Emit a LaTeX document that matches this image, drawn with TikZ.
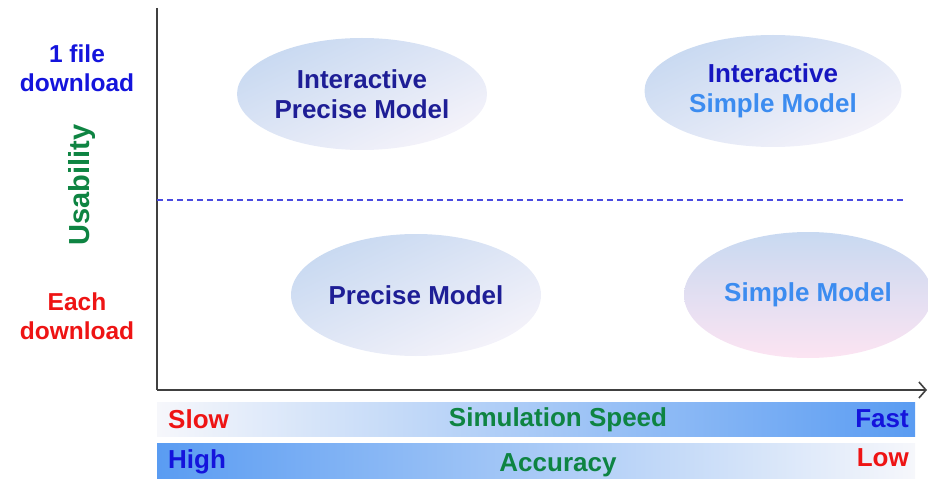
\documentclass[tikz,border=0pt]{standalone}
\usepackage{fontspec}
\setmainfont{Liberation Sans}
\usetikzlibrary{shapes.geometric,arrows.meta}
\definecolor{axisgray}{HTML}{404040}
\definecolor{dashblue}{HTML}{4A4AE0}
\definecolor{labelblue}{HTML}{1414DC}
\definecolor{navy}{HTML}{1E1E96}
\definecolor{brightnavy}{HTML}{1616C0}
\definecolor{skyblue}{HTML}{3C8CF0}
\definecolor{labelgreen}{HTML}{0E8442}
\definecolor{labelred}{HTML}{EE1414}
\definecolor{ellblue}{HTML}{C8D9F1}
\definecolor{ellwhite}{HTML}{F5F3FA}
\definecolor{ellpink}{HTML}{FCE4F2}
\definecolor{barblue}{HTML}{5A9CF2}
\definecolor{barwhite}{HTML}{F6F7FB}
\tikzset{
  x=1pt, y=-1pt,
  txt/.style={font=\bfseries\fontsize{24.5}{29}\selectfont, align=center, inner sep=0pt},
  bartxt/.style={font=\bfseries\fontsize{26}{29}\selectfont, inner sep=0pt},
  bubble/.style={ellipse, inner sep=0pt, shading=axis, top color=ellblue,
    bottom color=ellwhite, shading angle=25, font=\bfseries\fontsize{26}{30}\selectfont, align=center},
  bar/.style={rectangle, inner sep=0pt, minimum width=758, minimum height=34},
  axisline/.style={draw=axisgray, line width=1.8pt},
}
\begin{document}
\begin{tikzpicture}
\useasboundingbox (0,0) rectangle (928,481);

% axes
\coordinate (origin) at (157,390);
\coordinate (ytop) at (157,8);
\coordinate (xend) at (927,390);
\draw[axisline] (ytop) -- (origin);
\draw[axisline, -{Straight Barb[length=7pt,width=16pt,line width=1.6pt]}] (origin) -- (xend);

% usability split
\coordinate (dl) at (157,200);
\coordinate (dr) at (905,200);
\draw[dashblue, line width=1.2pt, dash pattern=on 6pt off 4pt] (dl) -- (dr);

% model bubbles
\node[bubble, minimum width=250, minimum height=112, text=navy] (ipm) at (362,94)
  {Interactive\\Precise Model};
\node[bubble, minimum width=257, minimum height=112] (ism) at (773,91)
  {\textcolor{brightnavy}{Interactive}\\\textcolor{skyblue}{Simple Model}};
\node[bubble, minimum width=250, minimum height=122, text=navy] (pm) at (416,295)
  {Precise Model};
\node[bubble, minimum width=248, minimum height=126, bottom color=ellpink, text=skyblue] (sm) at (808,295)
  {Simple Model};

% vertical axis labels
\node[txt, text=labelblue] (top) at (77,68) {1 file\\download};
\node[txt, text=labelgreen, rotate=90, font=\bfseries\fontsize{29}{30}\selectfont] (usab) at (82,185) {Usability};
\node[txt, text=labelred] (bottom) at (77,316) {Each\\download};

% speed and accuracy bars
\node[bar, left color=barwhite, right color=barblue] (speed) at (536,419) {};
\node[bar, left color=barblue, right color=barwhite, minimum height=35] (acc) at (536,461) {};
\node[bartxt, text=labelred, anchor=west] (slow) at (168,419) {Slow};
\node[bartxt, text=labelgreen] (sim) at (558,420) {Simulation Speed};
\node[bartxt, text=labelblue, anchor=east] (fast) at (909,419) {Fast};
\node[bartxt, text=labelblue, anchor=west] (high) at (168,462) {High};
\node[bartxt, text=labelgreen] (accl) at (558,465) {Accuracy};
\node[bartxt, text=labelred, anchor=east] (low) at (909,458) {Low};
\end{tikzpicture}
\end{document}
